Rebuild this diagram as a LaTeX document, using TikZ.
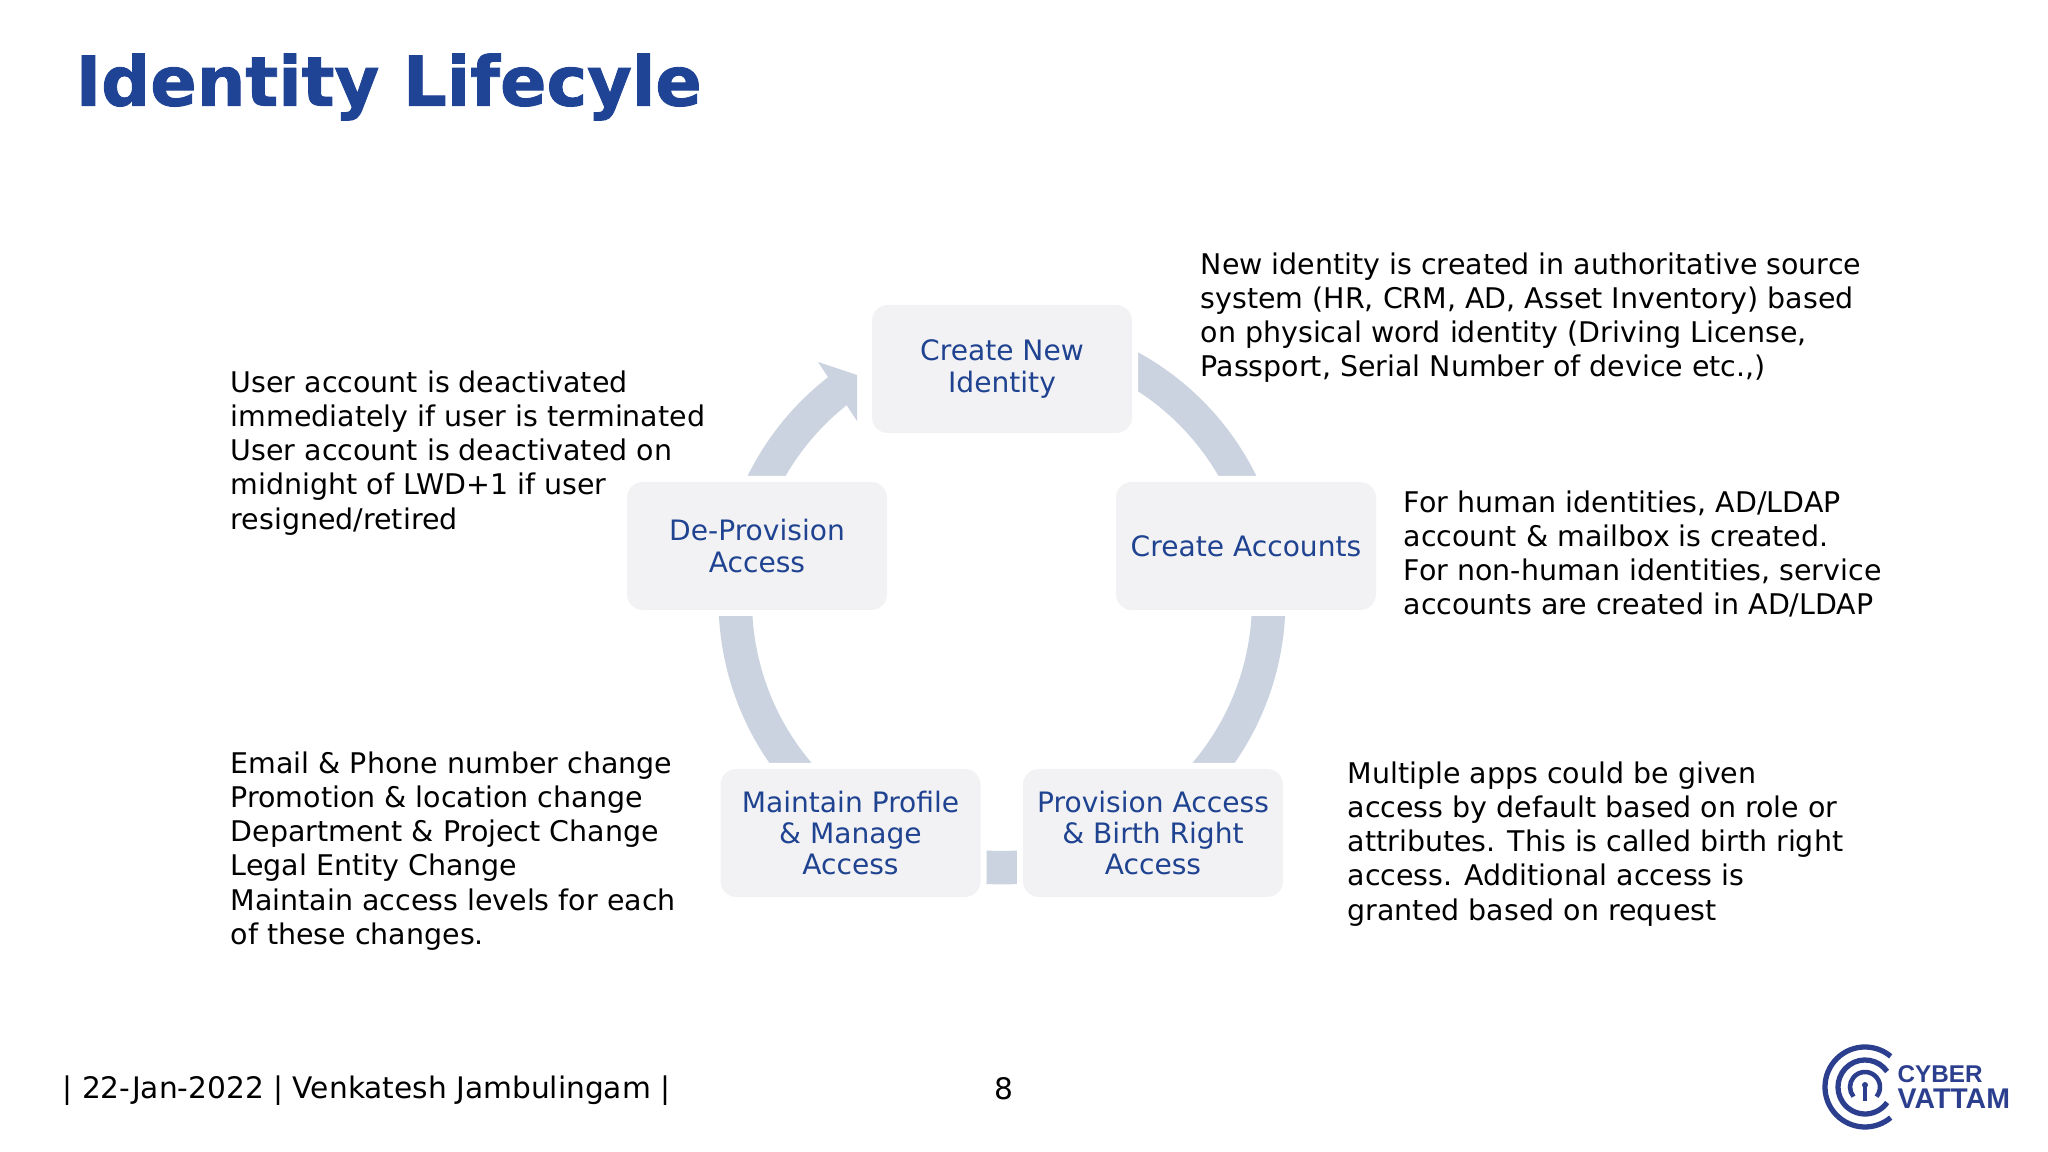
\documentclass[tikz,border=0pt]{standalone}
\usepackage{fontspec}
\setmainfont{DejaVu Sans}
\newfontfamily\logofont{Liberation Sans}
\newfontfamily\titlefont[BoldFeatures={FakeBold=1.3}]{DejaVu Sans}
\usetikzlibrary{calc,backgrounds}
\definecolor{titleblue}{HTML}{1F4496}
\definecolor{boxblue}{HTML}{1F4390}
\definecolor{boxgray}{HTML}{F2F2F4}
\definecolor{ringgray}{HTML}{CBD3E1}
\definecolor{logoblue}{HTML}{2B3F8E}
\newcommand{\ringr}{2.667}
\tikzset{
  stepbox/.style={fill=boxgray,rounded corners=4.5pt,minimum width=2.6cm,minimum height=1.28cm,inner sep=0pt,
    align=center,text=boxblue,font=\fontsize{8}{8.9}\selectfont,preaction={draw=white,line width=1.2mm}},
  notetext/.style={anchor=north west,align=left,inner sep=0pt,text=black,font=\fontsize{8.1}{9.73}\selectfont},
  ringlink/.style={draw=ringgray,line width=.335cm},
  logoarc/.style={draw=logoblue,line width=1.3pt}
}
\begin{document}
\begin{tikzpicture}
\useasboundingbox (0,0) rectangle (20.48,11.52);
\node[anchor=west,inner sep=0pt,text=titleblue,font=\titlefont\fontsize{19.5}{22}\selectfont\bfseries] (title) at (0.75,10.65) {Identity Lifecyle};
% boxes
\node[stepbox] (new) at (10.02,7.83) {Create New\\Identity};
\node[stepbox] (acc) at (12.46,6.06) {Create Accounts};
\node[stepbox] (prov) at (11.53,3.19) {Provision Access\\\& Birth Right\\Access};
\node[stepbox] (maint) at (8.505,3.19) {Maintain Profile\\\& Manage\\Access};
\node[stepbox] (deprov) at (7.57,6.06) {De-Provision\\Access};
% ring
\coordinate (ring) at (10.02,5.51);
\coordinate (rnew) at ($(ring)+(90:\ringr)$);
\coordinate (racc) at ($(ring)+(18:\ringr)$);
\coordinate (rprov) at ($(ring)+(-54:\ringr)$);
\coordinate (rmaint) at ($(ring)+(-126:\ringr)$);
\coordinate (rdeprov) at ($(ring)+(-198:\ringr)$);
\begin{scope}[on background layer]
\foreach \from/\a/\b in {rnew/90/18,racc/18/-54,rprov/-54/-126,rmaint/-126/-198}
  \draw[ringlink] (\from) arc[start angle=\a,end angle=\b,radius=\ringr];
\draw[ringlink] (rdeprov) arc[start angle=162,end angle=127.5,radius=\ringr];
\fill[ringgray] (8.18,7.90) -- (8.57,7.77) -- (8.57,7.31) -- cycle;
\end{scope}
% notes
\node[notetext] (note1) at (12.00,9.00) {New identity is created in authoritative source\\system (HR, CRM, AD, Asset Inventory) based\\on physical word identity (Driving License,\\Passport, Serial Number of device etc.,)};
\node[notetext] (note2) at (14.03,6.62) {For human identities, AD/LDAP\\account \& mailbox is created.\\For non-human identities, service\\accounts are created in AD/LDAP};
\node[notetext] (note3) at (13.47,3.91) {Multiple apps could be given\\access by default based on role or\\attributes. This is called birth right\\access. Additional access is\\granted based on request};
\node[notetext] (note4) at (2.30,7.82) {User account is deactivated\\immediately if user is terminated\\User account is deactivated on\\midnight of LWD+1 if user\\resigned/retired};
\node[notetext] (note5) at (2.30,4.01) {Email \& Phone number change\\Promotion \& location change\\Department \& Project Change\\Legal Entity Change\\Maintain access levels for each\\of these changes.};
% footer
\node[anchor=west,inner sep=0pt,font=\fontsize{8.44}{10}\selectfont] (foot) at (0.62,0.61) {| 22-Jan-2022 | Venkatesh Jambulingam |};
\node[inner sep=0pt,font=\fontsize{8.44}{10}\selectfont] (page) at (10.04,0.63) {8};
% logo
\coordinate (logo) at (18.65,0.65);
\draw[logoarc,line width=1.5pt] ($(logo)+(50:.40)$) arc[start angle=50,end angle=310,radius=.40];
\draw[logoarc,line width=1.5pt] ($(logo)+(35:.27)$) arc[start angle=35,end angle=325,radius=.27];
\draw[logoarc] ($(logo)+(-40:.15)$) arc[start angle=-40,end angle=220,radius=.15];
\fill[logoblue] ($(logo)+(0,.02)$) circle (.03);
\draw[logoarc] (logo) -- ++(0,-.14);
\node[anchor=west,inner sep=0pt,text=logoblue,font=\logofont\fontsize{6.9}{8}\selectfont\bfseries] (logoa) at (18.97,0.78) {CYBER};
\node[anchor=west,inner sep=0pt,text=logoblue,font=\logofont\fontsize{8.1}{9}\selectfont\bfseries] (logob) at (18.97,0.53) {VATTAM};
\end{tikzpicture}
\end{document}
